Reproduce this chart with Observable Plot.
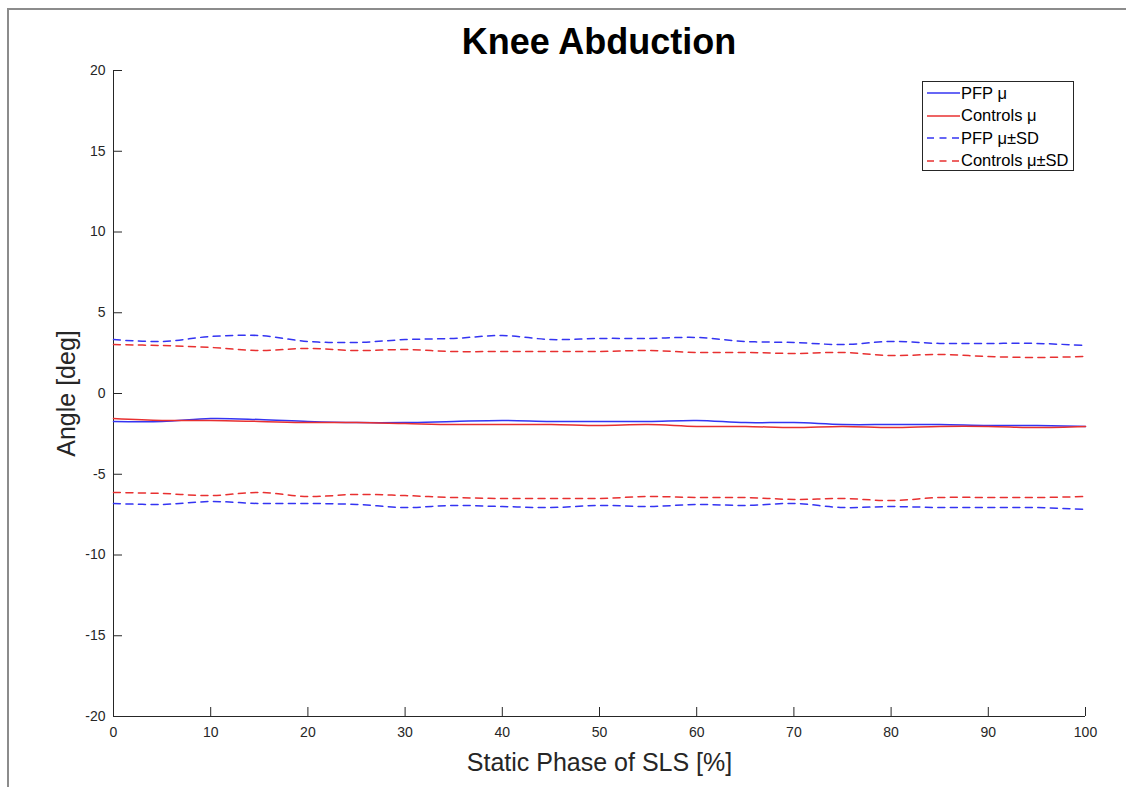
<!DOCTYPE html>
<html>
<head>
<meta charset="utf-8">
<script src="https://cdn.jsdelivr.net/npm/d3@7"></script>
<script src="https://cdn.jsdelivr.net/npm/@observablehq/plot@0.6"></script>
<style>
  html, body { margin: 0; padding: 0; background: #fff; }
  body { width: 1126px; height: 787px; position: relative; overflow: hidden; font-family: "Liberation Sans", Arial, Helvetica, sans-serif; }
  #frame { position: absolute; left: 7px; top: 8px; width: 1200px; height: 900px; border-top: 2px solid #8c8c8c; border-left: 2px solid #8c8c8c; }
  #title { position: relative; height: 60px; text-align: center; font-weight: bold; font-size: 36px; color: #000; line-height: 1; padding-left: 72px; box-sizing: border-box; padding-top: 24px; }
  #chart { position: relative; }
  #legend { position: absolute; left: 922px; top: 81px; width: 150px; height: 88px; border: 1px solid #262626; background: #fff; font-size: 16.5px; color: #000; padding-top: 0px; }
  .row { height: 22.5px; display: flex; align-items: center; }
  .row svg { margin-left: 4px; margin-right: 1px; }
</style>
</head>
<body>
<div id="frame"></div>
<div id="title">Knee Abduction</div>
<div id="chart"></div>
<div id="legend"></div>
<script>
// ---- data ----
const xs = [0,5,10,15,20,25,30,35,40,45,50,55,60,65,70,75,80,85,90,95,100];
const pfpMean  = [-1.73,-1.73,-1.55,-1.61,-1.73,-1.80,-1.80,-1.73,-1.67,-1.73,-1.73,-1.73,-1.67,-1.80,-1.80,-1.92,-1.92,-1.92,-1.98,-1.98,-2.04];
const ctrlMean = [-1.55,-1.67,-1.67,-1.73,-1.80,-1.80,-1.86,-1.92,-1.92,-1.92,-1.98,-1.92,-2.04,-2.04,-2.11,-2.04,-2.11,-2.04,-2.04,-2.11,-2.04];
const pfpUpper = [3.34,3.22,3.53,3.59,3.22,3.16,3.34,3.41,3.59,3.34,3.41,3.41,3.47,3.22,3.16,3.03,3.22,3.10,3.10,3.10,2.97];
const pfpLower = [-6.81,-6.87,-6.69,-6.81,-6.81,-6.87,-7.06,-6.93,-7.00,-7.06,-6.93,-7.00,-6.87,-6.93,-6.81,-7.06,-7.00,-7.06,-7.06,-7.06,-7.18];
const ctrlUpper = [3.03,2.97,2.85,2.66,2.79,2.66,2.72,2.60,2.60,2.60,2.60,2.66,2.54,2.54,2.48,2.54,2.35,2.42,2.29,2.23,2.29];
const ctrlLower = [-6.13,-6.19,-6.32,-6.13,-6.38,-6.25,-6.32,-6.44,-6.50,-6.50,-6.50,-6.38,-6.44,-6.44,-6.56,-6.50,-6.63,-6.44,-6.44,-6.44,-6.38];
const xTicks = [0,10,20,30,40,50,60,70,80,90,100];
const yTicks = [-20,-15,-10,-5,0,5,10,15,20];
const seriesNames = ["PFP \u03bc", "Controls \u03bc", "PFP \u03bc\u00b1SD", "Controls \u03bc\u00b1SD"];
const xLabel = "Static Phase of SLS [%]";
const yLabel = "Angle [deg]";

const BLUE = "#3434f2", RED = "#e83030", INK = "#262626";
const DASH = "7,5.5";

function series(key, values) {
  return xs.map((x, i) => ({x, y: values[i], key}));
}
const lines = [
  {key: "pfpU", color: BLUE, dash: DASH, vals: pfpUpper},
  {key: "pfpL", color: BLUE, dash: DASH, vals: pfpLower},
  {key: "ctrlU", color: RED, dash: DASH, vals: ctrlUpper},
  {key: "ctrlL", color: RED, dash: DASH, vals: ctrlLower},
  {key: "pfpM", color: BLUE, dash: null, vals: pfpMean},
  {key: "ctrlM", color: RED, dash: null, vals: ctrlMean}
];

const marks = [
  Plot.ruleX([0], {stroke: INK, strokeWidth: 1}),
  Plot.ruleY([-20], {stroke: INK, strokeWidth: 1}),
  Plot.axisX(xTicks, {anchor: "bottom", tickSize: -9, tickPadding: 20, fontSize: 14, color: INK, label: null, tickFormat: d => String(d)}),
  Plot.axisY(yTicks, {anchor: "left", tickSize: -9, tickPadding: 17, fontSize: 14, color: INK, label: null, tickFormat: d => String(d)}),
  Plot.text([xLabel], {frameAnchor: "bottom", lineAnchor: "middle", textAnchor: "middle", dy: 46, fontSize: 25, fill: INK, text: d => d}),
  Plot.text([yLabel], {frameAnchor: "left", lineAnchor: "middle", textAnchor: "middle", dx: -47, rotate: -90, fontSize: 25, fill: INK, text: d => d})
];
for (const l of lines) {
  marks.push(Plot.line(series(l.key, l.vals), {
    x: "x", y: "y", stroke: l.color, strokeWidth: 1.5,
    strokeDasharray: l.dash || undefined, curve: "catmull-rom"
  }));
}

const plot = Plot.plot({
  width: 1126,
  height: 727,
  marginTop: 10,
  marginRight: 41,
  marginBottom: 71,
  marginLeft: 113,
  x: {domain: [0, 100], axis: null},
  y: {domain: [-20, 20], axis: null},
  style: {fontFamily: '"Liberation Sans", Arial, Helvetica, sans-serif', background: "transparent", overflow: "visible"},
  marks
});
document.getElementById("chart").appendChild(plot);

// legend
const legendDefs = [
  {name: seriesNames[0], color: BLUE, dash: null},
  {name: seriesNames[1], color: RED, dash: null},
  {name: seriesNames[2], color: BLUE, dash: DASH},
  {name: seriesNames[3], color: RED, dash: DASH}
];
const lg = document.getElementById("legend");
for (const d of legendDefs) {
  const row = document.createElement("div");
  row.className = "row";
  row.innerHTML = `<svg width="33" height="10"><line x1="0" x2="33" y1="5" y2="5" stroke="${d.color}" stroke-width="1.5" ${d.dash ? `stroke-dasharray="${d.dash}"` : ""}/></svg><span>${d.name}</span>`;
  lg.appendChild(row);
}
</script>
</body>
</html>
